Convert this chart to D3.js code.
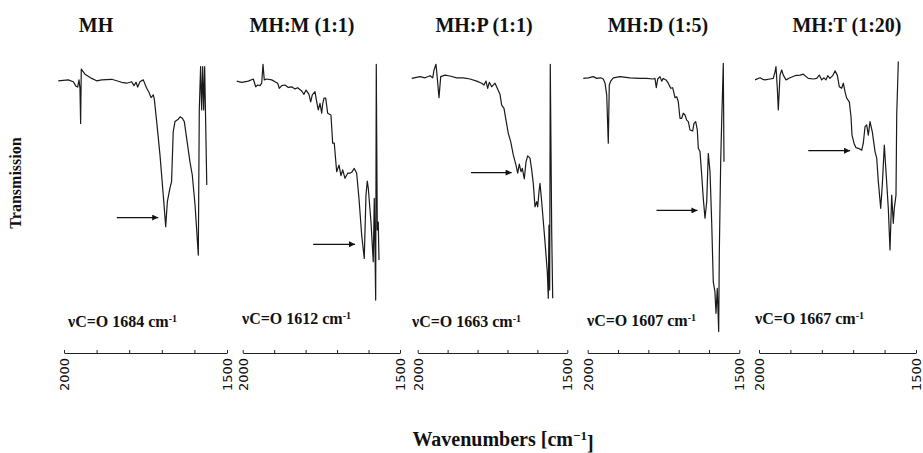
<!DOCTYPE html>
<html><head><meta charset="utf-8">
<script src="https://cdn.jsdelivr.net/npm/d3@7"></script>
<style>body{margin:0;background:#fff}</style>
</head><body><svg id="c" width="923" height="453"></svg>
<script>
// ---------- data ----------
const samples = ["MH", "MH:M (1:1)", "MH:P (1:1)", "MH:D (1:5)", "MH:T (1:20)"];
const carbonylBand = [1684, 1612, 1663, 1607, 1667];
const tickValues = [2000, 1900, 1800, 1700, 1600, 1500];
const tickLabels = ["2000", "", "", "", "", "1500"];

// [wavenumber cm-1, transmission (a.u., %)]
const specMH = [[2017.5,86.4],[1986.8,86.7],[1971.5,86.1],[1964,84.7],[1958,84.3],[1954,86.7],[1951,83.9],[1949,72.2],[1947,90.3],[1935.6,88.6],[1915,87.2],[1900,86.4],[1884.4,86.7],[1853.7,86.9],[1823,85.9],[1807.7,85.6],[1792.4,86.1],[1785.3,84.8],[1779,85.9],[1774,84.3],[1767,86.1],[1756.8,86.7],[1746.4,83.9],[1739.3,82.6],[1733,80.8],[1726,81.7],[1723,80.3],[1715.7,72.8],[1705.6,61.7],[1695.5,48.3],[1688,37.8],[1683,46.1],[1675,50.6],[1670,52.8],[1665,69.4],[1659.6,72.8],[1649.5,73.6],[1644,74.4],[1637,73.9],[1631,72.8],[1623.7,67.2],[1613.6,59.4],[1606.5,55],[1598,45],[1588,28.3],[1585,76.7],[1581,91.1],[1577.7,76.7],[1574.6,91.1],[1571.5,76.7],[1568.5,91.1],[1562,51.7]];
const specMHM = [[2019,86.3],[2003.2,85.9],[1982.2,86.3],[1966.3,87],[1958.7,84.4],[1952.3,85],[1945,84.8],[1939.6,85.6],[1935.5,91.9],[1931.4,86.7],[1923.7,87],[1907.8,86.7],[1897.3,86.1],[1888.8,85.6],[1883.7,83.9],[1876,84.8],[1865.6,85],[1855,84.2],[1844.3,84.4],[1833.8,83.7],[1825.2,84.1],[1812.5,83],[1805.2,81.9],[1798.8,83.3],[1789.3,81.9],[1783.9,79.4],[1778.8,81.7],[1770.2,82.8],[1764.8,79.4],[1759.7,76.7],[1754.3,78.9],[1748.9,75.6],[1745.8,78.6],[1741.6,80.6],[1736.2,80.6],[1729.9,75.6],[1719.4,75],[1714,65.6],[1708.9,65.6],[1701.3,56.1],[1693.9,58.3],[1687.6,54.8],[1682.2,56.7],[1674.9,53.9],[1666.3,55.6],[1659,55.6],[1653.6,55.9],[1645.3,57.2],[1637.7,55.6],[1630.4,47.2],[1621.8,35],[1613.6,27.2],[1608.1,48.3],[1604,53],[1600.8,50.6],[1592.3,39.4],[1585,26.1],[1581.8,47.2],[1577.3,13.3],[1575.4,91.9],[1572.2,36.7],[1569.1,39.3],[1566.8,26.7]];
const specMHP = [[2020,87.2],[1992.3,87.8],[1975.6,87.4],[1958.9,88.1],[1949.9,87.4],[1945.5,90],[1938.8,91.9],[1934.5,87.2],[1928.8,80.8],[1923.1,87.8],[1908.8,88.3],[1892,88],[1869.7,87.4],[1847.6,87.4],[1825.2,87],[1802.8,86.3],[1786.1,85.6],[1778.4,85],[1771.7,86.3],[1766.1,83.9],[1760.7,85.9],[1752.7,84.4],[1741.7,85.6],[1734,83.9],[1725,81.9],[1719.3,78.3],[1711.6,77.2],[1704.9,73.3],[1697.2,68.9],[1689.2,66.1],[1680.5,61.7],[1671.5,58.3],[1665.8,55.6],[1660.4,58.6],[1654.8,56.1],[1650.4,57.2],[1643.7,53.7],[1638,59.4],[1632.4,61.4],[1624.7,60.6],[1619,56.7],[1613.7,52.2],[1608,44.4],[1602.3,46.1],[1599,44.4],[1594.6,49.4],[1591.3,52.2],[1585.6,46.1],[1574.6,32.8],[1566.9,22.8],[1563.5,13.9],[1561.2,38.3],[1558.9,16.7],[1556.9,91.9],[1552.2,36.7],[1548.8,13.9]];
const specMHD = [[2014.5,87.2],[1998,87.4],[1981.5,87.8],[1970.3,87.2],[1957.1,87.4],[1948.6,87],[1942.9,85.6],[1937.3,81.7],[1932.1,65.6],[1928.8,85],[1924.1,86.3],[1915.6,87.4],[1893.5,87.8],[1860.5,87.4],[1827.5,87.2],[1805.4,87.2],[1783.7,87],[1778,87.2],[1773.8,84.1],[1769.1,87],[1761.6,87.8],[1755.9,86.3],[1750.7,87.2],[1741.8,86.7],[1734.2,85.6],[1726.3,83.9],[1719.7,84.1],[1712.1,80.8],[1706.5,81.1],[1701.2,79.4],[1695.6,73.9],[1690,73.9],[1684.7,75.6],[1679.1,75],[1673.5,73.3],[1668.2,72.8],[1662.6,70],[1653.7,69.7],[1649.4,72.2],[1643.8,72.8],[1638.5,70],[1635.2,63.9],[1629.6,62.8],[1624,55],[1618.8,47.2],[1613.1,40.6],[1607.5,46.1],[1602.3,62.2],[1596.6,56.1],[1591.1,39.4],[1585.8,19.4],[1580.4,16.1],[1576.9,8.9],[1572.6,17.2],[1568,2.8],[1566,28.3],[1561.4,59.4],[1558.1,72.8],[1552.8,92.2],[1550.5,59.4]];
const specMHT = [[2012.7,86.7],[1996.8,87.4],[1988.2,86.9],[1980.9,86.7],[1965,87],[1954.5,87.2],[1949,89.4],[1945.9,91.1],[1941.7,83.9],[1938.5,76.7],[1933.1,88.3],[1927.7,90],[1922.6,88.3],[1914,86.7],[1901.3,87.4],[1885.3,88.1],[1869.4,88.3],[1858.9,88.6],[1843,87.2],[1827.1,87],[1816.2,87.2],[1808,88.3],[1800.3,86.7],[1793,87.4],[1786.6,86.7],[1781.2,88.1],[1773.9,87.2],[1765.3,88.1],[1757.9,89.7],[1750.6,88.3],[1744.2,84.4],[1736.6,83.9],[1731.5,85.6],[1726.1,82.8],[1720.7,80.6],[1712.4,79.4],[1707,74.4],[1703.8,68.3],[1697.4,65.6],[1691.1,64.1],[1683.7,63.9],[1672.9,63.3],[1667.8,65.6],[1662.4,71.1],[1657,71.7],[1651.9,68.3],[1646.5,72.8],[1639.1,69.4],[1630.5,62.8],[1625.1,60.6],[1620,52.8],[1612.4,43.9],[1607.3,51.7],[1600.9,65],[1595.5,56.1],[1588.2,43.9],[1582.8,30],[1577.4,48.3],[1572.3,38.9],[1569.1,43.9],[1563.7,48.3],[1561.4,75],[1556.3,92.8]];
const spectra = [specMH, specMHM, specMHP, specMHD, specMHT];

// arrows marking the C=O band (wavenumber of tail, head; transmission level)
const arrowTailWn = [1838, 1776, 1822, 1773, 1843];
const arrowHeadWn = [1711, 1643, 1686, 1638, 1710];
const arrowT = [40.8, 31.9, 55.8, 43.2, 63.1];

// ---------- layout ----------
const panelLeft = [64, 242.7, 417.7, 587.7, 759];
const panelRight = [227, 400, 567.3, 739.3, 916];
const titleX = [96, 302, 484, 658, 847];
const noteX = [68, 242, 412, 587, 755];
const noteY = [327, 324, 327, 326, 324];
const axisY = 353;

const svg = d3.select("#c");
const y = d3.scaleLinear().domain([0, 100]).range([340, 40]);

svg.append("defs").append("marker")
  .attr("id", "ah").attr("viewBox", "0 0 10 10").attr("refX", 10).attr("refY", 5)
  .attr("markerUnits", "userSpaceOnUse").attr("markerWidth", 9).attr("markerHeight", 6)
  .attr("orient", "auto")
  .append("path").attr("d", "M0,0L10,5L0,10Z").attr("fill", "#111");

const serif = "'Liberation Serif','Times New Roman',serif";

samples.forEach((name, i) => {
  const x = d3.scaleLinear().domain([2000, 1500]).range([panelLeft[i], panelRight[i]]);
  const g = svg.append("g");

  g.append("text").attr("x", titleX[i]).attr("y", 32).attr("text-anchor", "middle")
    .style("font-family", serif).style("font-weight", "bold").style("font-size", "20px")
    .attr("fill", "#111").text(name);

  const line = d3.line().x(d => x(d[0])).y(d => y(d[1]));
  g.append("path").datum(spectra[i]).attr("d", line)
    .attr("fill", "none").attr("stroke", "#1a1a1a").attr("stroke-width", 1.2)
    .attr("stroke-linejoin", "round");

  g.append("line")
    .attr("x1", x(arrowTailWn[i])).attr("x2", x(arrowHeadWn[i]))
    .attr("y1", y(arrowT[i])).attr("y2", y(arrowT[i]))
    .attr("stroke", "#111").attr("stroke-width", 1.2).attr("marker-end", "url(#ah)");

  const note = g.append("text").attr("x", noteX[i]).attr("y", noteY[i])
    .style("font-family", serif).style("font-weight", "bold").style("font-size", "16px")
    .attr("fill", "#111");
  note.append("tspan").text("\u03BDC=O " + carbonylBand[i] + " cm");
  note.append("tspan").attr("dy", "-0.5em").style("font-size", "10px").text("-1");

  const ax = d3.axisBottom(x).tickValues(tickValues).tickSizeInner(-3).tickSizeOuter(0)
    .tickFormat((d, k) => tickLabels[k]);
  const ag = g.append("g").attr("transform", `translate(0,${axisY})`).call(ax);
  ag.select(".domain").attr("stroke", "#222").attr("stroke-width", 1.2);
  ag.selectAll(".tick line").attr("stroke", "#222");
  ag.selectAll(".tick text")
    .attr("x", 0).attr("y", 0).attr("dy", "0.35em")
    .attr("transform", "translate(0,5) rotate(-90)")
    .attr("text-anchor", "end")
    .style("font-family", "'DejaVu Sans',sans-serif").style("font-size", "13px")
    .attr("fill", "#111");
});

svg.append("text").attr("transform", "translate(21,183) rotate(-90)")
  .attr("text-anchor", "middle")
  .style("font-family", serif).style("font-weight", "bold").style("font-size", "16px")
  .attr("fill", "#111").text("Transmission");

const xl = svg.append("text").attr("x", 503).attr("y", 446).attr("text-anchor", "middle")
  .style("font-family", serif).style("font-weight", "bold").style("font-size", "20px")
  .attr("fill", "#111");
xl.append("tspan").text("Wavenumbers [cm");
xl.append("tspan").attr("dy", "-0.5em").style("font-size", "13px").text("\u22121");
xl.append("tspan").attr("dy", "0.5em").text("]");
</script>
</body></html>
